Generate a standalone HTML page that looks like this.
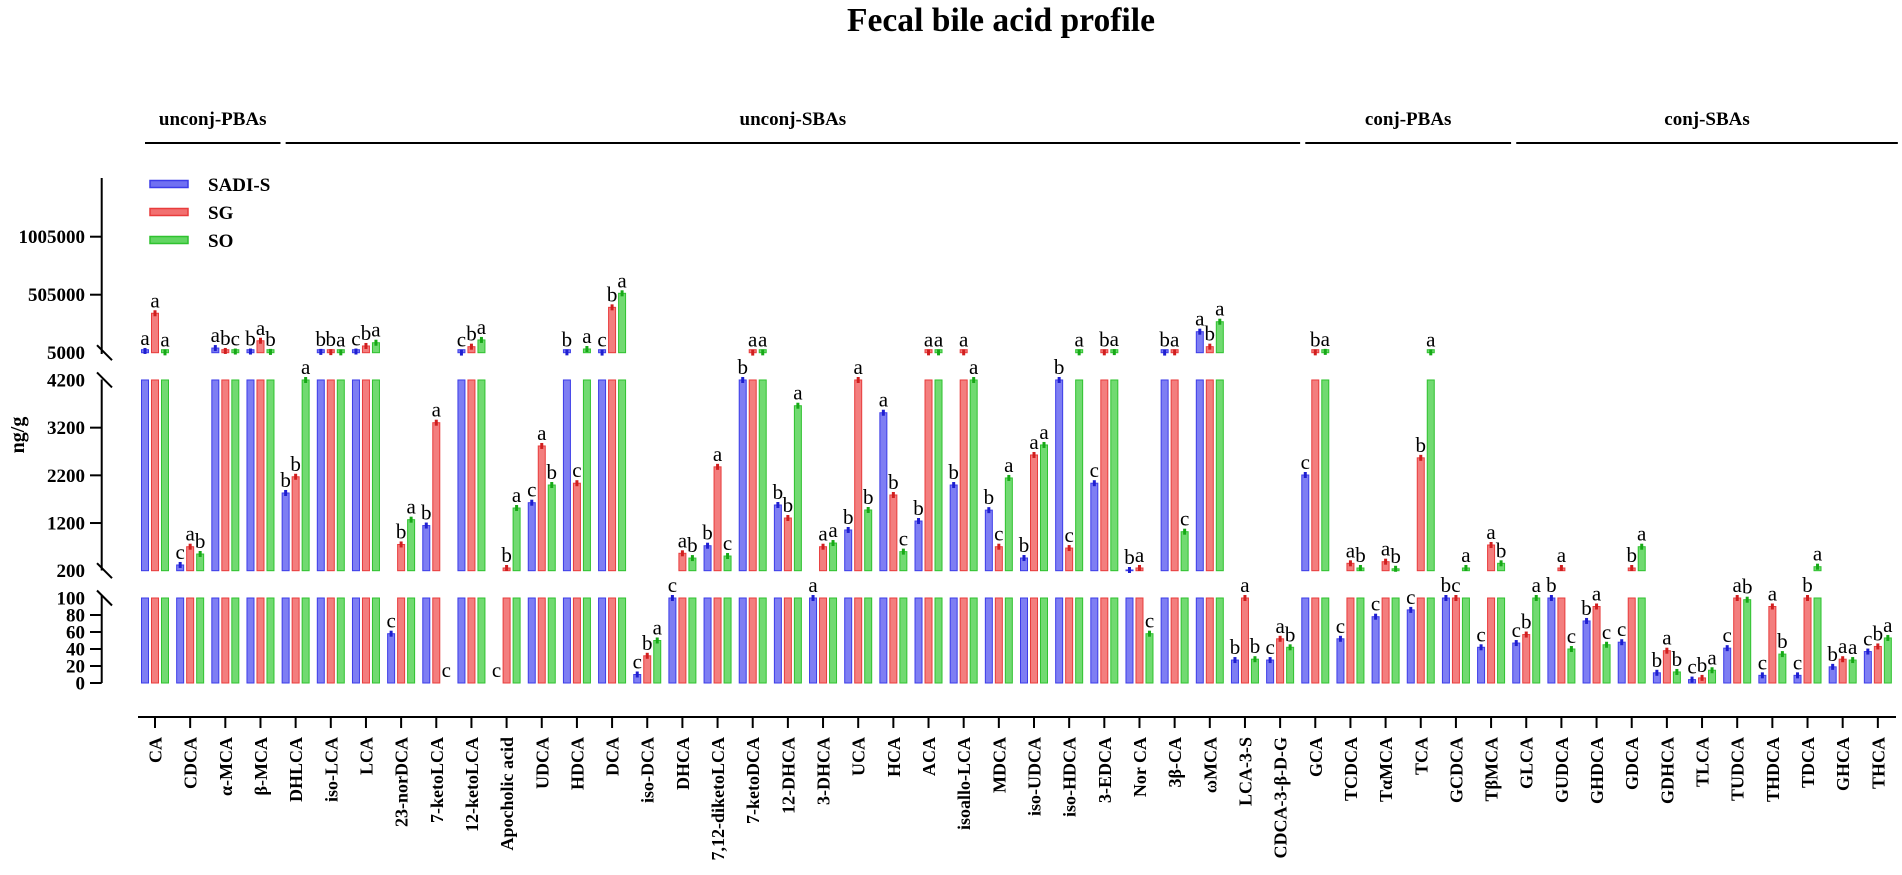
<!DOCTYPE html>
<html><head><meta charset="utf-8"><style>
html,body{margin:0;padding:0;background:#fff;}
svg{display:block;font-family:"Liberation Serif",serif;}
</style></head><body>
<svg id="chart" width="1902" height="875" viewBox="0 0 1902 875" xmlns="http://www.w3.org/2000/svg">
<text x="1001" y="31" text-anchor="middle" font-size="34" font-weight="bold" textLength="308" lengthAdjust="spacingAndGlyphs">Fecal bile acid profile</text>
<g id="groups"></g>
<g id="legend"></g>
<g id="axes"></g>
<g id="bars"></g>
<text transform="translate(24,435) rotate(-90)" text-anchor="middle" font-size="20" font-weight="bold">ng/g</text>
</svg>
<script>
const categories = ["CA","CDCA","α-MCA","β-MCA","DHLCA","iso-LCA","LCA","23-norDCA","7-ketoLCA","12-ketoLCA","Apocholic acid","UDCA","HDCA","DCA","iso-DCA","DHCA","7,12-diketoLCA","7-ketoDCA","12-DHCA","3-DHCA","UCA","HCA","ACA","isoallo-LCA","MDCA","iso-UDCA","iso-HDCA","3-EDCA","Nor CA","3β-CA","ωMCA","LCA-3-S","CDCA-3-β-D-G","GCA","TCDCA","TαMCA","TCA","GCDCA","TβMCA","GLCA","GUDCA","GHDCA","GDCA","GDHCA","TLCA","TUDCA","THDCA","TDCA","GHCA","THCA"];
const seriesNames = ["SADI-S","SG","SO"];
const sadiValues = [20000,320,45000,15000,1830,12000,15000,58,1147,6000,0,1626,8000,6000,10,150,724,4500,1578,100,1054,3513,1242,1997,1470,466,4500,2035,215,6000,186000,27,27,2207,52,78,86,150,42,47,150,73,48,12,4,41,9,9,19,37];
const sgValues = [345000,703,20000,108000,2170,10000,63000,750,3304,57000,257,2816,2035,396000,32,565,2378,6000,1305,703,4500,1788,8000,8000,703,2627,675,8000,257,8000,57000,150,52,8000,355,389,2567,150,739,57,257,90,257,38,6,150,90,150,28,43];
const soValues = [8000,550,15000,12000,4500,8000,91000,1270,0,115000,1515,1997,37000,517000,50,465,508,8000,3660,780,1473,600,8000,4500,2145,2837,8000,10000,58,1018,272000,28,42,12000,257,240,8000,257,355,150,40,45,703,13,15,98,34,284,27,53];
const sadiLetters = "a,c,a,b,b,b,c,c,b,c,c,c,b,c,c,c,b,b,b,a,b,a,b,b,b,b,b,c,b,b,a,b,c,c,c,c,c,b,c,c,b,b,c,b,c,c,c,c,b,c".split(",");
const sgLetters = "a,a,b,a,b,b,b,b,a,b,b,a,c,b,b,a,a,a,b,a,a,b,a,a,c,a,c,b,a,a,b,a,a,b,a,a,b,c,a,b,a,a,b,a,b,a,a,b,a,b".split(",");
const soLetters = "a,b,c,b,a,a,a,a,c,a,a,b,a,a,a,b,c,a,a,a,b,c,a,a,a,a,a,a,c,c,a,b,b,a,b,b,a,a,b,a,c,c,a,b,a,b,b,a,a,a".split(",");
const topTicks = [1005000,505000];
const midTicks = [3200,2200,1200];
const lowTicks = [80,60,40,20,0];
const breakLabels = [5000,4200,200,100];
const groupNames = ["unconj-PBAs","unconj-SBAs","conj-PBAs","conj-SBAs"];
const groupStart = [0,4,33,39];
const groupEnd = [3,32,38,49];

const NS="http://www.w3.org/2000/svg";
function mk(tag,attrs,parent){const e=document.createElementNS(NS,tag);for(const k in attrs)e.setAttribute(k,attrs[k]);parent.appendChild(e);return e;}
const X0=155, STEP=35.16;
function xCat(i){return X0+i*STEP;}
function yLow(v){return 683-Math.max(0,Math.min(v,100))*0.85;}
function yMid(v){return 570.7-(Math.max(200,Math.min(v,4200))-200)*0.04768;}
function yTop(v){return 352.7-(Math.max(5000,v)-5000)*0.000116;}
function yAny(v){if(v<=100)return yLow(v);if(v<200)return 598;if(v<=4200)return yMid(v);if(v<5000)return 380;return yTop(v);}

const axes=document.getElementById('axes');
const bars=document.getElementById('bars');
const groups=document.getElementById('groups');
const legend=document.getElementById('legend');
const fills=["#7070f2","#f27070","#62d662"], strokes=["#3c3ce8","#e83c3c","#2fc22f"], dark=["#1e1ed0","#d01e1e","#16a816"];

groupNames.forEach((g,i)=>{
  const x1=xCat(groupStart[i])-10, x2=xCat(groupEnd[i])+20;
  const ln=mk('line',{x1:x1,x2:x2,y1:143,y2:143,stroke:'#000','stroke-width':2},groups);
  
  
  const t=mk('text',{x:(x1+x2)/2,y:125,'text-anchor':'middle','font-size':19,'font-weight':'bold'},groups);
  t.textContent=g;
  
  
});

seriesNames.forEach((s,i)=>{
  const y=184+i*28;
  const r=mk('rect',{x:150,y:y-3.5,width:38,height:7,fill:fills[i],stroke:strokes[i],'stroke-width':1.5},legend);
  
  
  const t=mk('text',{x:208,y:y+7,'font-size':19,'font-weight':'bold'},legend);
  t.textContent=s;
  
  
});

[[178,354],[379.5,570.5],[595.5,683]].forEach(s=>{
  const l=mk('line',{x1:101.7,x2:101.7,y1:s[0],y2:s[1],stroke:'#000','stroke-width':2},axes);
  
  
});
function tickLabel(y,txt,withTick){
  if(withTick){const tk=mk('line',{x1:90,x2:101.7,y1:y,y2:y,stroke:'#000','stroke-width':2},axes);
    
    }
  const t=mk('text',{x:85,y:y+6.5,'text-anchor':'end','font-size':19,'font-weight':'bold'},axes);
  t.textContent=txt;
  
  
}
topTicks.forEach(v=>tickLabel(yTop(v),v,true));
midTicks.forEach(v=>tickLabel(yMid(v),v,true));
lowTicks.forEach(v=>tickLabel(yLow(v),v,true));
const breakY=[yTop(5000),yMid(4200),yMid(200),yLow(100)];
breakLabels.forEach((v,i)=>{
  const y=breakY[i];
  tickLabel(y,v,false);
  const sl=mk('line',{x1:97,y1:y-7.5,x2:112,y2:y+7.5,stroke:'#000','stroke-width':2},axes);
  
  
});

const xl=mk('line',{x1:138,x2:1896,y1:717,y2:717,stroke:'#000','stroke-width':2},axes);


categories.forEach((c,i)=>{
  const x=xCat(i);
  const tk=mk('line',{x1:x,x2:x,y1:717,y2:728,stroke:'#000','stroke-width':2},axes);
  
  
  const t=mk('text',{transform:`translate(${x+6.5},737) rotate(-90)`,'text-anchor':'end','font-size':18,'font-weight':'bold'},axes);
  t.textContent=c;
  
  
});

const allValues=[sadiValues,sgValues,soValues];
const allLetters=[sadiLetters,sgLetters,soLetters];
function rectBar(x,y1,y2,s,name){
  const h=Math.max(y2-y1,0);
  const r=mk('rect',{x:x-3.5,y:y1,width:7,height:h,fill:fills[s],stroke:strokes[s],'stroke-width':1,'fill-opacity':0.9},bars);
  
  
}
categories.forEach((c,i)=>{
  for(let s=0;s<3;s++){
    const v=allValues[s][i];
    const x=xCat(i)+(s-1)*10;
    const nm='bar-'+c+'-'+seriesNames[s];
    if(v>0) rectBar(x,yLow(v),683,s,nm);
    if(v>200) rectBar(x,yMid(v),570.7,s,nm);
    if(v>5000) rectBar(x,Math.min(yTop(v),349.7),352.7,s,nm);
    const top=yAny(v);
    if(v>0){
      const m=mk('line',{x1:x,x2:x,y1:top-3,y2:top+3,stroke:dark[s],'stroke-width':3},bars);
      
      
    }
    const t=mk('text',{x:x,y:top-6,'text-anchor':'middle','font-size':21},bars);
    t.textContent=allLetters[s][i];
    
    
  }
});
</script>
</body></html>
